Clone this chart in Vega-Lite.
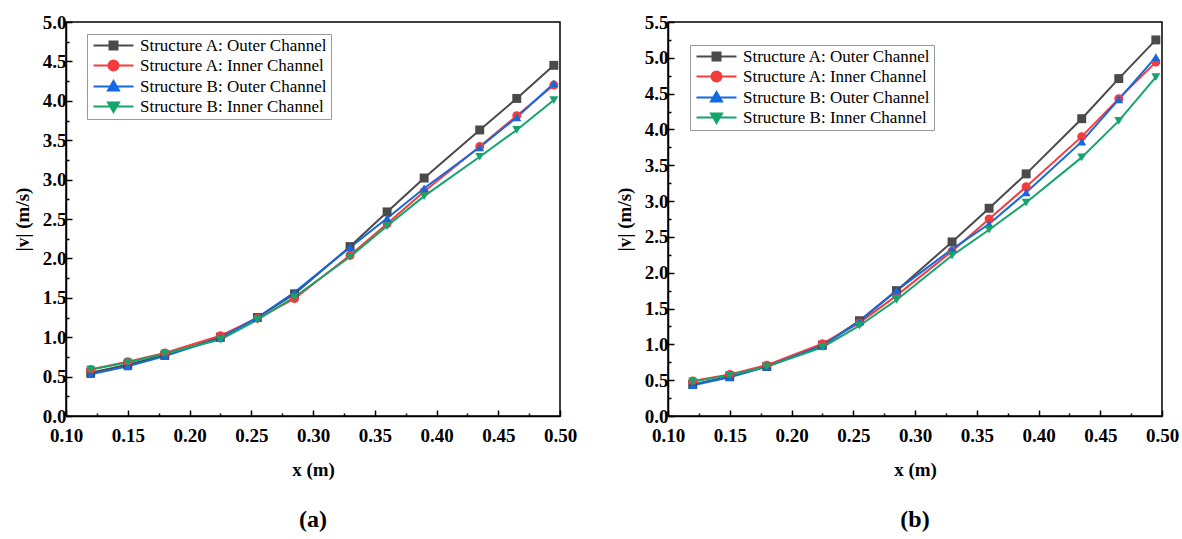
{
  "$schema": "https://vega.github.io/schema/vega-lite/v6.json",
  "background": "white",
  "padding": {"left": 12, "top": 12, "right": 5, "bottom": 5},
  "config": {
    "font": "Liberation Serif",
    "view": {"stroke": "black", "strokeWidth": 1.5},
    "axis": {"grid": false, "domainColor": "black", "domainWidth": 1.5, "tickColor": "black", "tickWidth": 1.5,
      "labelFont": "Liberation Serif", "labelFontSize": 19, "labelFontWeight": "bold", "labelColor": "black",
      "titleFont": "Liberation Serif", "titleFontSize": 19, "titleFontWeight": "bold", "titleColor": "black",
      "labelOverlap": false, "labelFlush": false},
    "legend": {"labelFont": "Liberation Serif", "labelFontSize": 17, "labelColor": "black"},
    "style": {"guide-label": {"font": "Liberation Serif"}, "guide-title": {"font": "Liberation Serif"}},
    "title": {"font": "Liberation Serif", "fontSize": 24, "fontWeight": "bold", "color": "black"}
  },
  "spacing": 36,
  "datasets": {
    "a": [
      {"x":0.12,"v":0.55,"s":"Structure A: Outer Channel"},{"x":0.15,"v":0.65,"s":"Structure A: Outer Channel"},{"x":0.18,"v":0.77,"s":"Structure A: Outer Channel"},{"x":0.225,"v":1.00,"s":"Structure A: Outer Channel"},{"x":0.255,"v":1.25,"s":"Structure A: Outer Channel"},{"x":0.285,"v":1.55,"s":"Structure A: Outer Channel"},{"x":0.33,"v":2.15,"s":"Structure A: Outer Channel"},{"x":0.36,"v":2.59,"s":"Structure A: Outer Channel"},{"x":0.39,"v":3.02,"s":"Structure A: Outer Channel"},{"x":0.435,"v":3.63,"s":"Structure A: Outer Channel"},{"x":0.465,"v":4.03,"s":"Structure A: Outer Channel"},{"x":0.495,"v":4.45,"s":"Structure A: Outer Channel"},
      {"x":0.12,"v":0.59,"s":"Structure A: Inner Channel"},{"x":0.15,"v":0.69,"s":"Structure A: Inner Channel"},{"x":0.18,"v":0.80,"s":"Structure A: Inner Channel"},{"x":0.225,"v":1.02,"s":"Structure A: Inner Channel"},{"x":0.255,"v":1.24,"s":"Structure A: Inner Channel"},{"x":0.285,"v":1.49,"s":"Structure A: Inner Channel"},{"x":0.33,"v":2.04,"s":"Structure A: Inner Channel"},{"x":0.36,"v":2.44,"s":"Structure A: Inner Channel"},{"x":0.39,"v":2.85,"s":"Structure A: Inner Channel"},{"x":0.435,"v":3.42,"s":"Structure A: Inner Channel"},{"x":0.465,"v":3.81,"s":"Structure A: Inner Channel"},{"x":0.495,"v":4.20,"s":"Structure A: Inner Channel"},
      {"x":0.12,"v":0.53,"s":"Structure B: Outer Channel"},{"x":0.15,"v":0.63,"s":"Structure B: Outer Channel"},{"x":0.18,"v":0.76,"s":"Structure B: Outer Channel"},{"x":0.225,"v":0.99,"s":"Structure B: Outer Channel"},{"x":0.255,"v":1.25,"s":"Structure B: Outer Channel"},{"x":0.285,"v":1.57,"s":"Structure B: Outer Channel"},{"x":0.33,"v":2.14,"s":"Structure B: Outer Channel"},{"x":0.36,"v":2.51,"s":"Structure B: Outer Channel"},{"x":0.39,"v":2.89,"s":"Structure B: Outer Channel"},{"x":0.435,"v":3.41,"s":"Structure B: Outer Channel"},{"x":0.465,"v":3.79,"s":"Structure B: Outer Channel"},{"x":0.495,"v":4.22,"s":"Structure B: Outer Channel"},
      {"x":0.12,"v":0.59,"s":"Structure B: Inner Channel"},{"x":0.15,"v":0.68,"s":"Structure B: Inner Channel"},{"x":0.18,"v":0.79,"s":"Structure B: Inner Channel"},{"x":0.225,"v":0.97,"s":"Structure B: Inner Channel"},{"x":0.255,"v":1.22,"s":"Structure B: Inner Channel"},{"x":0.285,"v":1.51,"s":"Structure B: Inner Channel"},{"x":0.33,"v":2.02,"s":"Structure B: Inner Channel"},{"x":0.36,"v":2.41,"s":"Structure B: Inner Channel"},{"x":0.39,"v":2.79,"s":"Structure B: Inner Channel"},{"x":0.435,"v":3.29,"s":"Structure B: Inner Channel"},{"x":0.465,"v":3.63,"s":"Structure B: Inner Channel"},{"x":0.495,"v":4.01,"s":"Structure B: Inner Channel"}
    ],
    "b": [
      {"x":0.12,"v":0.44,"s":"Structure A: Outer Channel"},{"x":0.15,"v":0.55,"s":"Structure A: Outer Channel"},{"x":0.18,"v":0.69,"s":"Structure A: Outer Channel"},{"x":0.225,"v":0.99,"s":"Structure A: Outer Channel"},{"x":0.255,"v":1.33,"s":"Structure A: Outer Channel"},{"x":0.285,"v":1.75,"s":"Structure A: Outer Channel"},{"x":0.33,"v":2.43,"s":"Structure A: Outer Channel"},{"x":0.36,"v":2.90,"s":"Structure A: Outer Channel"},{"x":0.39,"v":3.38,"s":"Structure A: Outer Channel"},{"x":0.435,"v":4.15,"s":"Structure A: Outer Channel"},{"x":0.465,"v":4.71,"s":"Structure A: Outer Channel"},{"x":0.495,"v":5.25,"s":"Structure A: Outer Channel"},
      {"x":0.12,"v":0.49,"s":"Structure A: Inner Channel"},{"x":0.15,"v":0.58,"s":"Structure A: Inner Channel"},{"x":0.18,"v":0.71,"s":"Structure A: Inner Channel"},{"x":0.225,"v":1.01,"s":"Structure A: Inner Channel"},{"x":0.255,"v":1.30,"s":"Structure A: Inner Channel"},{"x":0.285,"v":1.68,"s":"Structure A: Inner Channel"},{"x":0.33,"v":2.30,"s":"Structure A: Inner Channel"},{"x":0.36,"v":2.75,"s":"Structure A: Inner Channel"},{"x":0.39,"v":3.20,"s":"Structure A: Inner Channel"},{"x":0.435,"v":3.90,"s":"Structure A: Inner Channel"},{"x":0.465,"v":4.43,"s":"Structure A: Inner Channel"},{"x":0.495,"v":4.94,"s":"Structure A: Inner Channel"},
      {"x":0.12,"v":0.43,"s":"Structure B: Outer Channel"},{"x":0.15,"v":0.54,"s":"Structure B: Outer Channel"},{"x":0.18,"v":0.69,"s":"Structure B: Outer Channel"},{"x":0.225,"v":0.98,"s":"Structure B: Outer Channel"},{"x":0.255,"v":1.32,"s":"Structure B: Outer Channel"},{"x":0.285,"v":1.75,"s":"Structure B: Outer Channel"},{"x":0.33,"v":2.33,"s":"Structure B: Outer Channel"},{"x":0.36,"v":2.68,"s":"Structure B: Outer Channel"},{"x":0.39,"v":3.12,"s":"Structure B: Outer Channel"},{"x":0.435,"v":3.83,"s":"Structure B: Outer Channel"},{"x":0.465,"v":4.42,"s":"Structure B: Outer Channel"},{"x":0.495,"v":5.01,"s":"Structure B: Outer Channel"},
      {"x":0.12,"v":0.48,"s":"Structure B: Inner Channel"},{"x":0.15,"v":0.57,"s":"Structure B: Inner Channel"},{"x":0.18,"v":0.69,"s":"Structure B: Inner Channel"},{"x":0.225,"v":0.96,"s":"Structure B: Inner Channel"},{"x":0.255,"v":1.26,"s":"Structure B: Inner Channel"},{"x":0.285,"v":1.62,"s":"Structure B: Inner Channel"},{"x":0.33,"v":2.24,"s":"Structure B: Inner Channel"},{"x":0.36,"v":2.60,"s":"Structure B: Inner Channel"},{"x":0.39,"v":2.98,"s":"Structure B: Inner Channel"},{"x":0.435,"v":3.61,"s":"Structure B: Inner Channel"},{"x":0.465,"v":4.12,"s":"Structure B: Inner Channel"},{"x":0.495,"v":4.73,"s":"Structure B: Inner Channel"}
    ]
  },
  "hconcat": [
    {
      "width": 494, "height": 394,
      "data": {"name": "a"},
      "title": {"text": "(a)", "orient": "bottom", "offset": 29},
      "encoding": {
        "x": {"field": "x", "type": "quantitative", "title": "x  (m)",
          "scale": {"domain": [0.1, 0.5], "nice": false, "zero": false},
          "axis": {"values": [0.1,0.125,0.15,0.175,0.2,0.225,0.25,0.275,0.3,0.325,0.35,0.375,0.4,0.425,0.45,0.475,0.5],
            "labelExpr": "round(datum.value*40)%2==0 ? format(datum.value,'.2f') : ''",
            "tickSize": {"condition": {"test": "round(datum.value*40)%2==0", "value": -6}, "value": -3},
            "labelPadding": 16, "titlePadding": 12}},
        "y": {"field": "v", "type": "quantitative", "title": "|v|  (m/s)",
          "scale": {"domain": [0, 5], "nice": false, "zero": true},
          "axis": {"values": [0,0.25,0.5,0.75,1,1.25,1.5,1.75,2,2.25,2.5,2.75,3,3.25,3.5,3.75,4,4.25,4.5,4.75,5],
            "labelExpr": "round(datum.value*4)%2==0 ? format(datum.value,'.1f') : ''",
            "tickSize": {"condition": {"test": "round(datum.value*4)%2==0", "value": -6}, "value": -3},
            "labelPadding": 6, "titlePadding": 10}}
      },
      "layer": [
        {"mark": {"type": "point", "filled": true, "opacity": 0},
          "encoding": {
            "color": {"field": "s", "type": "nominal", "scale": {"domain": ["Structure A: Outer Channel","Structure A: Inner Channel","Structure B: Outer Channel","Structure B: Inner Channel"], "range": ["#4a4a4a","#f43c3c","#1468e0","#14a46c"]},
              "legend": {"title": null, "orient": "none", "legendX": 21, "legendY": 12, "symbolSize": 100, "symbolStrokeWidth": 2, "symbolOpacity": 1, "labelFont": "Liberation Serif", "labelFontSize": 17, "labelColor": "black", "labelOffset": 33, "rowPadding": 2, "padding": 3, "strokeColor": "#999999", "fillColor": "white", "labelLimit": 400}},
            "stroke": {"field": "s", "type": "nominal", "scale": {"domain": ["Structure A: Outer Channel","Structure A: Inner Channel","Structure B: Outer Channel","Structure B: Inner Channel"], "range": ["#4a4a4a","#f43c3c","#1468e0","#14a46c"]},
              "legend": {"title": null, "orient": "none", "legendX": 21, "legendY": 12, "symbolSize": 100, "symbolStrokeWidth": 2, "symbolOpacity": 1, "labelFont": "Liberation Serif", "labelFontSize": 17, "labelColor": "black", "labelOffset": 33, "rowPadding": 2, "padding": 3, "strokeColor": "#999999", "fillColor": "white", "labelLimit": 400}},
            "shape": {"field": "s", "type": "nominal", "scale": {"domain": ["Structure A: Outer Channel","Structure A: Inner Channel","Structure B: Outer Channel","Structure B: Inner Channel"], "range": ["M-1,0H7M2.2,-0.8H3.8V0.8H2.2Z","M-1,0H7M2,0A1,1 0 1,0 4,0A1,1 0 1,0 2,0Z","M-1,0H7M3,-1.1L4.1,0.8L1.9,0.8Z","M-1,0H7M3,1.1L4.1,-0.8L1.9,-0.8Z"]},
              "legend": {"title": null, "orient": "none", "legendX": 21, "legendY": 12, "symbolSize": 100, "symbolStrokeWidth": 2, "symbolOpacity": 1, "labelFont": "Liberation Serif", "labelFontSize": 17, "labelColor": "black", "labelOffset": 33, "rowPadding": 2, "padding": 3, "strokeColor": "#999999", "fillColor": "white", "labelLimit": 400}}
          }},
        {"mark": {"type": "line", "strokeWidth": 2},
          "encoding": {"color": {"field": "s", "type": "nominal", "scale": {"domain": ["Structure A: Outer Channel","Structure A: Inner Channel","Structure B: Outer Channel","Structure B: Inner Channel"], "range": ["#4a4a4a","#f43c3c","#1468e0","#14a46c"]}, "legend": null}}},
        {"mark": {"type": "point", "filled": true, "opacity": 1, "size": 80},
          "encoding": {
            "color": {"field": "s", "type": "nominal", "scale": {"domain": ["Structure A: Outer Channel","Structure A: Inner Channel","Structure B: Outer Channel","Structure B: Inner Channel"], "range": ["#4a4a4a","#f43c3c","#1468e0","#14a46c"]}, "legend": null},
            "shape": {"field": "s", "type": "nominal", "scale": {"domain": ["Structure A: Outer Channel","Structure A: Inner Channel","Structure B: Outer Channel","Structure B: Inner Channel"], "range": ["square","circle","triangle-up","triangle-down"]}, "legend": null}
          }}
      ],
      "resolve": {"scale": {"color": "independent", "shape": "independent", "stroke": "independent"}}
    },
    {
      "width": 494, "height": 394,
      "data": {"name": "b"},
      "title": {"text": "(b)", "orient": "bottom", "offset": 29},
      "encoding": {
        "x": {"field": "x", "type": "quantitative", "title": "x  (m)",
          "scale": {"domain": [0.1, 0.5], "nice": false, "zero": false},
          "axis": {"values": [0.1,0.125,0.15,0.175,0.2,0.225,0.25,0.275,0.3,0.325,0.35,0.375,0.4,0.425,0.45,0.475,0.5],
            "labelExpr": "round(datum.value*40)%2==0 ? format(datum.value,'.2f') : ''",
            "tickSize": {"condition": {"test": "round(datum.value*40)%2==0", "value": -6}, "value": -3},
            "labelPadding": 16, "titlePadding": 12}},
        "y": {"field": "v", "type": "quantitative", "title": "|v|  (m/s)",
          "scale": {"domain": [0, 5.5], "nice": false, "zero": true},
          "axis": {"values": [0,0.25,0.5,0.75,1,1.25,1.5,1.75,2,2.25,2.5,2.75,3,3.25,3.5,3.75,4,4.25,4.5,4.75,5,5.25,5.5],
            "labelExpr": "round(datum.value*4)%2==0 ? format(datum.value,'.1f') : ''",
            "tickSize": {"condition": {"test": "round(datum.value*4)%2==0", "value": -6}, "value": -3},
            "labelPadding": 6, "titlePadding": 10}}
      },
      "layer": [
        {"mark": {"type": "point", "filled": true, "opacity": 0},
          "encoding": {
            "color": {"field": "s", "type": "nominal", "scale": {"domain": ["Structure A: Outer Channel","Structure A: Inner Channel","Structure B: Outer Channel","Structure B: Inner Channel"], "range": ["#4a4a4a","#f43c3c","#1468e0","#14a46c"]},
              "legend": {"title": null, "orient": "none", "legendX": 22, "legendY": 23, "symbolSize": 100, "symbolStrokeWidth": 2, "symbolOpacity": 1, "labelFont": "Liberation Serif", "labelFontSize": 17, "labelColor": "black", "labelOffset": 33, "rowPadding": 2, "padding": 3, "strokeColor": "#999999", "fillColor": "white", "labelLimit": 400}},
            "stroke": {"field": "s", "type": "nominal", "scale": {"domain": ["Structure A: Outer Channel","Structure A: Inner Channel","Structure B: Outer Channel","Structure B: Inner Channel"], "range": ["#4a4a4a","#f43c3c","#1468e0","#14a46c"]},
              "legend": {"title": null, "orient": "none", "legendX": 22, "legendY": 23, "symbolSize": 100, "symbolStrokeWidth": 2, "symbolOpacity": 1, "labelFont": "Liberation Serif", "labelFontSize": 17, "labelColor": "black", "labelOffset": 33, "rowPadding": 2, "padding": 3, "strokeColor": "#999999", "fillColor": "white", "labelLimit": 400}},
            "shape": {"field": "s", "type": "nominal", "scale": {"domain": ["Structure A: Outer Channel","Structure A: Inner Channel","Structure B: Outer Channel","Structure B: Inner Channel"], "range": ["M-1,0H7M2.2,-0.8H3.8V0.8H2.2Z","M-1,0H7M2,0A1,1 0 1,0 4,0A1,1 0 1,0 2,0Z","M-1,0H7M3,-1.1L4.1,0.8L1.9,0.8Z","M-1,0H7M3,1.1L4.1,-0.8L1.9,-0.8Z"]},
              "legend": {"title": null, "orient": "none", "legendX": 22, "legendY": 23, "symbolSize": 100, "symbolStrokeWidth": 2, "symbolOpacity": 1, "labelFont": "Liberation Serif", "labelFontSize": 17, "labelColor": "black", "labelOffset": 33, "rowPadding": 2, "padding": 3, "strokeColor": "#999999", "fillColor": "white", "labelLimit": 400}}
          }},
        {"mark": {"type": "line", "strokeWidth": 2},
          "encoding": {"color": {"field": "s", "type": "nominal", "scale": {"domain": ["Structure A: Outer Channel","Structure A: Inner Channel","Structure B: Outer Channel","Structure B: Inner Channel"], "range": ["#4a4a4a","#f43c3c","#1468e0","#14a46c"]}, "legend": null}}},
        {"mark": {"type": "point", "filled": true, "opacity": 1, "size": 80},
          "encoding": {
            "color": {"field": "s", "type": "nominal", "scale": {"domain": ["Structure A: Outer Channel","Structure A: Inner Channel","Structure B: Outer Channel","Structure B: Inner Channel"], "range": ["#4a4a4a","#f43c3c","#1468e0","#14a46c"]}, "legend": null},
            "shape": {"field": "s", "type": "nominal", "scale": {"domain": ["Structure A: Outer Channel","Structure A: Inner Channel","Structure B: Outer Channel","Structure B: Inner Channel"], "range": ["square","circle","triangle-up","triangle-down"]}, "legend": null}
          }}
      ],
      "resolve": {"scale": {"color": "independent", "shape": "independent", "stroke": "independent"}}
    }
  ],
  "resolve": {"scale": {"color": "independent", "shape": "independent", "stroke": "independent", "x": "independent", "y": "independent"}}
}
